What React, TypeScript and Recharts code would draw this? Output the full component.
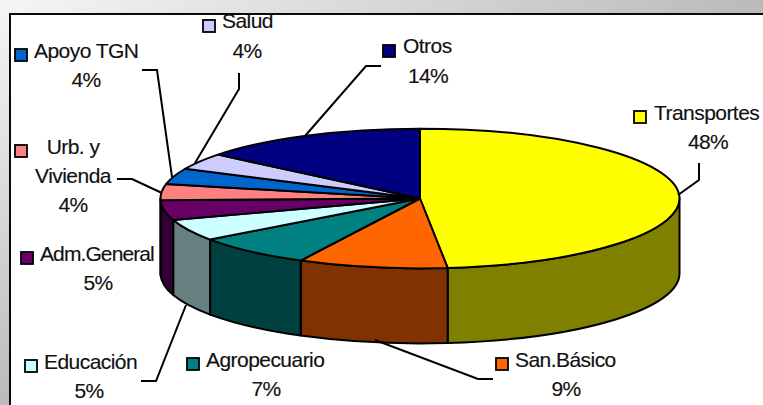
import React from "react";
import { PieChart, Pie, Cell } from "recharts";

const categories = ["Transportes", "San.Básico", "Agropecuario", "Educación", "Adm.General", "Urb. y Vivienda", "Apoyo TGN", "Salud", "Otros"];
const shares = [48.3, 9.3, 7.4, 5.0, 4.6, 3.7, 3.7, 3.8, 14.2];
const topColors = ["#ffff00", "#ff6600", "#008080", "#ccffff", "#660066", "#ff8080", "#0066cc", "#ccccff", "#000080"];
const sideColors = ["#808000", "#803300", "#004040", "#668080", "#330033", "#804040", "#003366", "#666680", "#000040"];

const data = categories.map((name, i) => ({ name, value: shares[i] }));

// Layout of the pie: a flattened ellipse with a vertical wall
const CX = 420;
const CY = 198.5;
const RX = 259.5;
const SQUASH = 70 / 260;
const DEPTH = 75;

type LabelLayout = {
  lines: { text: string; x: number; y: number; anchor?: "start" | "middle"; spacing?: number }[];
  pctX: number;
  pctY: number;
  key: [number, number];
  leader?: string;
};

const labelLayouts: LabelLayout[] = [
  { lines: [{ text: "Transportes", x: 654, y: 120 }], pctX: 708, pctY: 149, key: [634, 111], leader: "699,163 699,180 678,195" },
  { lines: [{ text: "San.Básico", x: 515, y: 367 }], pctX: 566, pctY: 396, key: [496, 358], leader: "493,379 478,379 375,340" },
  { lines: [{ text: "Agropecuario", x: 206, y: 367 }], pctX: 266, pctY: 396, key: [187, 358] },
  { lines: [{ text: "Educación", x: 44, y: 369 }], pctX: 89, pctY: 398, key: [25, 360], leader: "141,381 156,381 186,305" },
  { lines: [{ text: "Adm.General", x: 40, y: 261, spacing: -0.9 }], pctX: 98, pctY: 290, key: [21, 252] },
  {
    lines: [
      { text: "Urb. y", x: 73, y: 154, anchor: "middle" },
      { text: "Vivienda", x: 73, y: 183, anchor: "middle" },
    ],
    pctX: 73,
    pctY: 212,
    key: [15, 145],
    leader: "117,179 132,179 162,193",
  },
  { lines: [{ text: "Apoyo TGN", x: 34, y: 58 }], pctX: 86, pctY: 87, key: [15, 49], leader: "142,70 157,70 172,177" },
  { lines: [{ text: "Salud", x: 222, y: 28 }], pctX: 247, pctY: 58, key: [203, 20], leader: "239,73 239,89 195,163" },
  { lines: [{ text: "Otros", x: 403, y: 53 }], pctX: 428, pctY: 83, key: [383, 45], leader: "381,66 366,66 305,136" },
];

const pt = (cx: number, cy: number, r: number, deg: number, dy = 0) => {
  const a = (deg * Math.PI) / 180;
  return [cx + r * Math.cos(a), cy - r * SQUASH * Math.sin(a) + dy];
};

function TopSlice(props: any) {
  const { cx, cy, outerRadius: r, startAngle, endAngle, fill } = props;
  const [x1, y1] = pt(cx, cy, r, startAngle);
  const [x2, y2] = pt(cx, cy, r, endAngle);
  const large = Math.abs(startAngle - endAngle) > 180 ? 1 : 0;
  const d = `M${cx},${cy} L${x1},${y1} A${r},${r * SQUASH} 0 ${large} 1 ${x2},${y2} Z`;
  return <path d={d} fill={fill} stroke="#000" strokeWidth={2} strokeLinejoin="round" />;
}

function WallSlice(props: any) {
  const { cx, cy, outerRadius: r, startAngle, endAngle, fill } = props;
  // Sweep runs clockwise from startAngle down to endAngle; only the front half (-180..0) shows.
  const from = Math.min(startAngle, 0);
  const to = Math.max(endAngle, -180);
  if (from <= to) return null;
  const [x1, y1] = pt(cx, cy, r, from);
  const [x2, y2] = pt(cx, cy, r, to);
  const ry = r * SQUASH;
  const d = `M${x1},${y1} A${r},${ry} 0 0 1 ${x2},${y2} L${x2},${y2 + DEPTH} A${r},${ry} 0 0 0 ${x1},${y1 + DEPTH} Z`;
  return <path d={d} fill={fill} stroke="#000" strokeWidth={2} strokeLinejoin="round" />;
}

function SliceLabel(props: any) {
  const { index, percent } = props;
  const l = labelLayouts[index];
  const style = {
    fontFamily: '"Liberation Sans", Arial, sans-serif',
    fontSize: 21,
    fill: "#111",
    stroke: "#111",
    strokeWidth: 0.15,
  };
  return (
    <g>
      <rect x={l.key[0]} y={l.key[1]} width={12} height={12} fill={topColors[index]} stroke="#000" strokeWidth={1.8} />
      {l.lines.map((t) => (
        <text key={t.text} x={t.x} y={t.y} textAnchor={t.anchor ?? "start"} letterSpacing={t.spacing ?? -0.55} {...style}>
          {t.text}
        </text>
      ))}
      <text x={l.pctX} y={l.pctY} textAnchor="middle" letterSpacing={-0.7} {...style}>
        {`${Math.round(percent * 100)}%`}
      </text>
      {l.leader && <polyline points={l.leader} fill="none" stroke="#000" strokeWidth={2} />}
    </g>
  );
}

export default function App() {
  return (
    <div
      style={{
        position: "fixed",
        left: 0,
        top: 0,
        width: 763,
        height: 405,
        overflow: "hidden",
        background: "linear-gradient(to bottom right, #f6f6f6, #808080)",
      }}
    >
      <div
        style={{
          position: "absolute",
          left: 9,
          top: 13,
          width: 800,
          height: 500,
          background: "#fff",
          borderLeft: "2.5px solid #0a0a0a",
          borderTop: "2.5px solid #0a0a0a",
        }}
      />
      <div style={{ position: "absolute", left: 0, top: 0 }}>
        <PieChart width={763} height={405} margin={{ top: 0, right: 0, bottom: 0, left: 0 }}>
          <Pie
            data={data}
            dataKey="value"
            nameKey="name"
            cx={CX}
            cy={CY}
            outerRadius={RX}
            startAngle={90}
            endAngle={-270}
            paddingAngle={0}
            isAnimationActive={false}
            shape={WallSlice}
            legendType="none"
          >
            {categories.map((c, i) => (
              <Cell key={c} fill={sideColors[i]} />
            ))}
          </Pie>
          <Pie
            data={data}
            dataKey="value"
            nameKey="name"
            cx={CX}
            cy={CY}
            outerRadius={RX}
            startAngle={90}
            endAngle={-270}
            paddingAngle={0}
            isAnimationActive={false}
            shape={TopSlice}
            label={SliceLabel}
            labelLine={false}
          >
            {categories.map((c, i) => (
              <Cell key={c} fill={topColors[i]} />
            ))}
          </Pie>
        </PieChart>
      </div>
    </div>
  );
}
